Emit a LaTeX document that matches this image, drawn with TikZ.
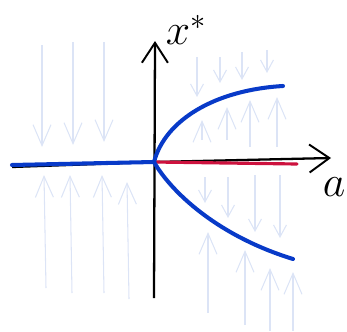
\documentclass[tikz,border=0pt]{standalone}
\usepackage{tikz}
\usetikzlibrary{arrows.meta}
\definecolor{kblue}{RGB}{8,58,200}
\definecolor{kred}{RGB}{205,18,62}
\definecolor{kpale}{RGB}{220,228,246}
\begin{document}
\begin{tikzpicture}[x=0.02cm,y=-0.02cm,
    flow/.style={kpale,line width=0.6pt,-{Straight Barb[length=0.42cm,width=0.36cm,line width=0.6pt]}},
    sflow/.style={kpale,line width=0.6pt,-{Straight Barb[length=0.24cm,width=0.26cm,line width=0.6pt]}}]
    \useasboundingbox (0,0) rectangle (347,331);
    \coordinate (O) at (154,162);
    % 弱い矢印 (左)
    \foreach \x/\a/\b in {42/45/147, 73/42/145, 104/42/142}
        \draw[flow] (\x,\a) --(\x,\b);
    \foreach \x/\a/\b in {46/288/175, 72/293/175, 104/293/175, 129/299/182}
        \draw[flow] (\x,\a) --(\x-2,\b);
    % 弱い矢印 (右)
    \foreach \x/\a/\b in {197/57/97, 220/57/83, 242/52/80, 267/50/73}
        \draw[sflow] (\x,\a) --(\x,\b);
    \foreach \x/\a/\b in {202/140/120, 227/140/107, 250/147/100, 277/147/97}
        \draw[flow] (\x,\a) --(\x,\b);
    \foreach \x/\a/\b in {205/177/203, 228/177/218, 255/175/232, 280/175/238}
        \draw[sflow] (\x,\a) --(\x,\b);
    \foreach \x/\a/\b in {208/313/232, 245/325/250, 270/331/268, 293/331/272}
        \draw[flow] (\x,\a) --(\x,\b);
    % 軸
    \draw[line width=1.3pt,-{Straight Barb[length=0.4cm,width=0.56cm,line width=1.1pt]}] (12,167) --(O) --(331,158); %a軸
    \draw[line width=1.3pt,-{Straight Barb[length=0.4cm,width=0.52cm,line width=1.1pt]}] (154,298) --(155,41); %x*軸
    \node (la) at (334,187) {\fontsize{24}{26}\selectfont$a$};
    \node (lx) at (186,30) {\fontsize{24}{26}\selectfont$x^{*}$};
    % 平衡点
    \draw[kred,line width=1.8pt,line cap=round] (O) --(297,164); %不安定
    \draw[kblue,line width=2.3pt,line cap=round] (12,165) --(O); %安定
    \draw[kblue,line width=2.3pt,line cap=round] (O) .. controls (165,120) and (215,90) .. (283,86);
    \draw[kblue,line width=2.3pt,line cap=round] (O) .. controls (170,190) and (215,235) .. (293,259);
\end{tikzpicture}
\end{document}
